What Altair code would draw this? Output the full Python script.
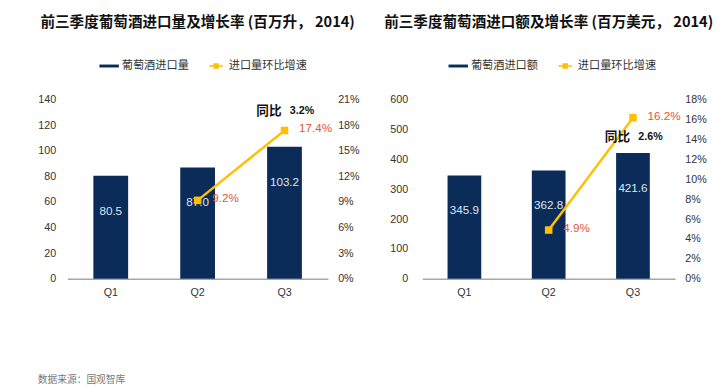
import altair as alt
import pandas as pd

quarters = ["Q1", "Q2", "Q3"]
volume = [80.5, 87.0, 103.2]
value_usd = [345.9, 362.8, 421.6]
vol_growth = [None, 0.092, 0.174]
val_growth = [None, 0.049, 0.162]
vol_yoy = "3.2%"
val_yoy = "2.6%"
vol_ticks = [0, 20, 40, 60, 80, 100, 120, 140]
vol_pct_ticks = [0, 0.03, 0.06, 0.09, 0.12, 0.15, 0.18, 0.21]
val_ticks = [0, 100, 200, 300, 400, 500, 600]
val_pct_ticks = [0, 0.02, 0.04, 0.06, 0.08, 0.10, 0.12, 0.14, 0.16, 0.18]
titles = ["前三季度葡萄酒进口量及增长率 (百万升， 2014)", "前三季度葡萄酒进口额及增长率 (百万美元， 2014)"]
bar_names = ["葡萄酒进口量", "葡萄酒进口额"]
line_name = "进口量环比增速"
source = "数据来源：国观智库"

NAVY = "#0B2B59"
GOLD = "#FFC000"
RED = "#E5553A"
FONT = "Arial, Liberation Sans, Noto Sans CJK SC"
CJK = "Noto Sans CJK SC"

BAR_SYM = "M-1,-0.15H1V0.15H-1Z"
LINE_SYM = "M-0.7,-0.07H0.7V0.07H-0.7Z M-0.28,-0.28H0.28V0.28H-0.28Z"


def panel(title, bar_name, bars, growth, yoy, yticks, pticks, width, yoy_dy, legend_x, lpad):
    df = pd.DataFrame({
        "q": quarters,
        "v": bars,
        "g": growth,
        "bs": bar_name,
        "ls": line_name,
        "lbl": [f"{b:.1f}" for b in bars],
        "glbl": ["" if g is None else f"{g * 100:.1f}%" for g in growth],
        "yoy": yoy,
    })
    base = alt.Chart(df)
    x = alt.X("q:N", sort=quarters,
              scale=alt.Scale(paddingInner=0.6, paddingOuter=0.3),
              axis=alt.Axis(title=None, labelAngle=0, ticks=False, domainColor="#A6A6A6",
                            domainWidth=1.5, labelPadding=8, labelFontSize=11,
                            labelColor="#333333", labelFont=FONT))
    legend = alt.Legend(title=None, orient="none", legendX=legend_x, legendY=-45,
                        direction="horizontal",
                        symbolType={"expr": f"datum.label == '{bar_name}' ? '{BAR_SYM}' : '{LINE_SYM}'"},
                        symbolSize=400, symbolStrokeWidth=0, labelFontSize=11.5,
                        labelColor="#333333", labelFont=CJK, columnPadding=18,
                        labelOffset=3)
    cscale = alt.Scale(domain=[bar_name, line_name], range=[NAVY, GOLD])
    yscale = alt.Scale(domain=[yticks[0], yticks[-1]], nice=False)
    yaxis = alt.Axis(values=yticks, tickCount=len(yticks), title=None, domain=False,
                     ticks=False, grid=False, labelOverlap=False,
                     labelPadding=lpad, labelFontSize=11,
                     labelColor="#333333", labelFont=FONT)
    y = alt.Y("v:Q", scale=yscale, axis=yaxis)
    bar_layer = base.mark_bar().encode(
        x=x, y=y, color=alt.Color("bs:N", scale=cscale, legend=legend))
    bar_text = base.mark_text(dy=36, color="#DCE6F2", fontSize=12, font=FONT).encode(
        x=x, y=y, text="lbl:N")

    gbase = base.transform_filter("isValid(datum.g)")
    pscale = alt.Scale(domain=[0, pticks[-1]], nice=False)
    paxis = alt.Axis(orient="right", values=pticks, tickCount=len(pticks), format=".0%",
                     title=None, domain=False, ticks=False, grid=False,
                     labelOverlap=False,
                     labelPadding=10, labelFontSize=11, labelColor="#333333",
                     labelFont=FONT)
    yp = alt.Y("g:Q", scale=pscale, axis=paxis)
    line = gbase.mark_line(strokeWidth=2.5).encode(
        x=x, y=yp, color=alt.Color("ls:N", scale=cscale, legend=legend))
    pts = gbase.mark_square(size=60, color=GOLD, opacity=1).encode(x=x, y=yp)
    glabels = gbase.mark_text(align="left", dx=15, dy=-2, color=RED, fontSize=12, font=FONT).encode(
        x=x, y=yp, text="glbl:N")
    q3 = gbase.transform_filter("datum.q == 'Q3'")
    yoy1 = q3.transform_calculate(t="'同比'").mark_text(
        dx=-16, dy=yoy_dy, fontSize=13, fontWeight="bold", font=CJK, color="#111111").encode(
        x=x, y=yp, text="t:N")
    yoy2 = q3.mark_text(
        dx=18, dy=yoy_dy, fontSize=11, fontWeight="bold", font=FONT, color="#111111").encode(
        x=x, y=yp, text="yoy:N")

    left = alt.layer(bar_layer, bar_text)
    right = alt.layer(line, pts, glabels, yoy1, yoy2)
    return alt.layer(left, right).resolve_scale(y="independent").properties(
        width=width, height=184,
        title=alt.TitleParams(title, fontSize=15, font=CJK, fontWeight="bold",
                              anchor="middle", offset=27, color="#111111"))


p1 = panel(titles[0], bar_names[0], volume, vol_growth, vol_yoy, vol_ticks, vol_pct_ticks, 268, -20, 33, 12)
p2 = panel(titles[1], bar_names[1], value_usd, val_growth, val_yoy, val_ticks, val_pct_ticks, 260, 20, 27, 15)

chart = alt.hconcat(p1, p2, spacing=24).resolve_scale(color="independent").resolve_legend(
    color="independent").properties(
    padding={"left": 30, "top": 2, "right": 0, "bottom": 0},
    title=alt.TitleParams(source, orient="bottom", anchor="start", fontSize=10, font=CJK,
                          fontWeight="normal", color="#777777", offset=80),
).configure_view(stroke=None)

chart.save("out.html", embed_options={"renderer": "svg", "actions": False})
